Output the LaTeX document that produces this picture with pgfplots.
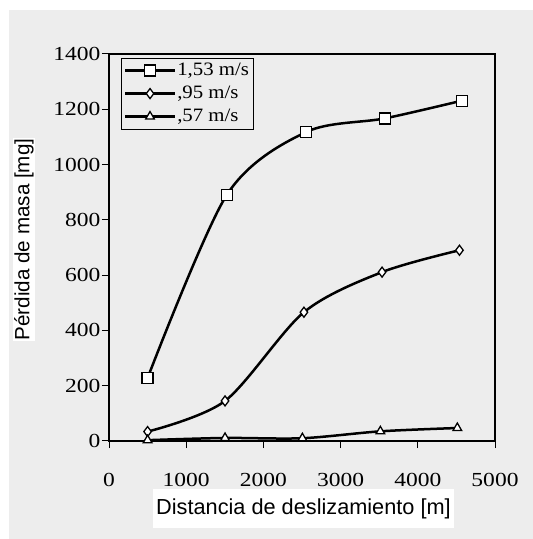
\documentclass[border=0pt]{standalone}
\usepackage{fontspec}
\setmainfont{Liberation Serif}
\newfontfamily\tickfont[FakeStretch=1.18]{Liberation Serif}
\newfontfamily\legendfont[FakeStretch=1.1]{Liberation Serif}
\newfontfamily\labelfont{Liberation Sans}
\usepackage{pgfplots}
\pgfplotsset{compat=1.18}
\definecolor{paper}{gray}{0.93}

\begin{document}
\begin{tikzpicture}
\useasboundingbox (0bp,0bp) rectangle (533bp,539bp);
\fill[white] (0bp,0bp) rectangle (533bp,539bp);
\fill[paper] (9bp,0bp) rectangle (533bp,529bp);
\begin{axis}[
  at={(109bp,98bp)}, anchor=south west,
  scale only axis, width=386bp, height=387bp,
  xmin=0, xmax=5000, ymin=0, ymax=1400,
  xtick={0,1000,...,5000}, ytick={0,200,...,1400},
  scaled ticks=false,
  tick align=outside, major tick length=7bp,
  xtick pos=bottom, ytick pos=left,
  axis line style={line width=1.3bp, black},
  tick style={line width=1bp, black},
  /pgf/number format/assume math mode=true,
  /pgf/number format/1000 sep={},
  tick label style={font=\tickfont\fontsize{20}{20}\selectfont},
  xticklabel style={yshift=-22bp},
  yticklabel style={xshift=2bp},
  legend style={
    at={(rel axis cs:0.03,0.99)}, anchor=north west,
    draw=black, fill=none,
    inner xsep=3bp, inner ysep=3bp,
    font=\legendfont\fontsize{19}{19}\selectfont,
    row sep=4bp,
    nodes={inner sep=1bp, text height=13bp, text depth=4bp},
  },
  legend cell align=left,
  legend image code/.code={
    \draw[line width=2.5bp, mark repeat=2, mark phase=2]
      plot coordinates {(0bp,0bp) (25bp,0bp) (50bp,0bp)};
  },
  every axis plot/.append style={black, line width=2.5bp},
]
% Mass loss versus sliding distance at three sliding speeds
\addplot[smooth, mark=square*, mark size=5.5bp,
         mark options={solid, fill=white, line width=1.3bp}] coordinates {
  (500,228) (1525,890) (2548,1117) (3572,1167) (4569,1231)
};
\addlegendentry{1,53 m/s}
\addplot[smooth, mark=diamond*, mark size=5bp,
         mark options={solid, fill=white, line width=1.3bp}] coordinates {
  (500,34) (1503,145) (2525,466) (3537,611) (4540,690)
};
\addlegendentry{,95 m/s}
\addplot[smooth, mark=triangle*, mark size=5bp,
         mark options={solid, fill=white, line width=1.3bp}] coordinates {
  (500,3) (1503,11) (2505,10) (3515,35) (4512,47)
};
\addlegendentry{,57 m/s}
\end{axis}
\node[fill=white, rotate=90, inner sep=1bp,
      font=\labelfont\fontsize{20.7}{21}\selectfont]
  at (24bp,299.5bp) {Pérdida de masa [mg]};
\node[fill=white, inner xsep=3bp, inner ysep=1bp, minimum height=39bp,
      font=\labelfont\fontsize{21.8}{22}\selectfont]
  at (303.5bp,30.5bp) {Distancia de deslizamiento [m]};
\end{tikzpicture}
\end{document}
